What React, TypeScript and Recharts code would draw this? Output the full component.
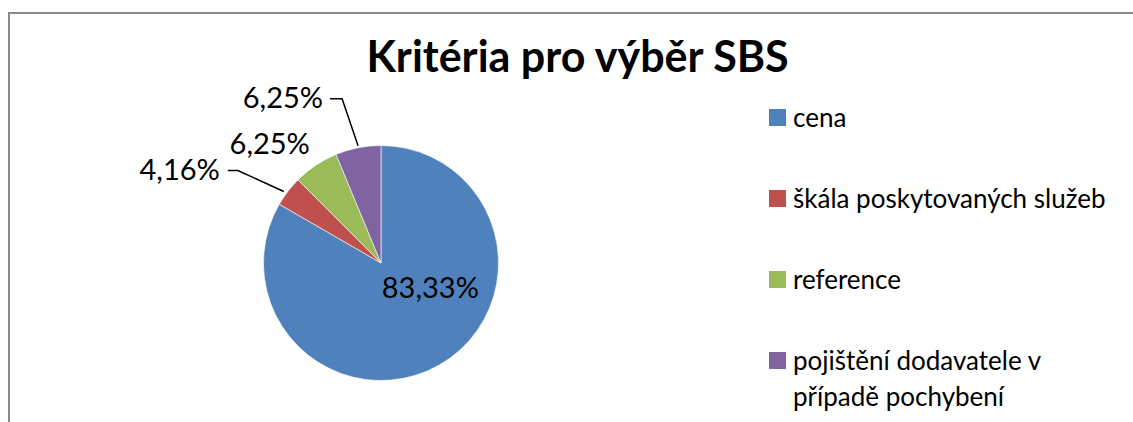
import React from 'react';
import { PieChart, Pie, Cell, Legend } from 'recharts';

const CATEGORIES = ['cena', 'škála poskytovaných služeb', 'reference', 'pojištění dodavatele v případě pochybení'];
const SHARES = [83.33, 4.16, 6.25, 6.25];
const SHARE_LABELS = ['83,33%', '4,16%', '6,25%', '6,25%'];
const COLORS = ['#4F81BD', '#C0504D', '#9BBB59', '#8064A2'];
// legend lines (Excel wrapped the last entry)
const LEGEND_LINES = [['cena'], ['škála poskytovaných služeb'], ['reference'], ['pojištění dodavatele v', 'případě pochybení']];

const data = CATEGORIES.map((name, i) => ({ name, value: SHARES[i], label: SHARE_LABELS[i] }));

const FONT = 'Lato, "Open Sans", sans-serif';
const RAD = Math.PI / 180;

// label placement relative to the slice: inside (blue) or outside with leader line
const renderLabel = (props: any) => {
    const { cx, cy, midAngle, outerRadius, index } = props;
    const cos = Math.cos(-midAngle * RAD);
    const sin = Math.sin(-midAngle * RAD);
    const text = SHARE_LABELS[index];
    const style = { fontFamily: FONT, fontSize: 29, fill: '#000' };

    if (index === 0) {
        return (
            <text x={cx + outerRadius * 0.42} y={cy + 35} textAnchor="middle" style={style}>
                {text}
            </text>
        );
    }
    const ox = cx + outerRadius * cos;
    const oy = cy + outerRadius * sin;
    if (index === 1) {
        const ex = ox - 50;
        const ey = oy - 21;
        return (
            <g>
                <polyline points={`${ox - 4},${oy} ${ex},${ey} ${ex - 10},${ey}`} fill="none" stroke="#000" strokeWidth={1.5} />
                <text x={ex - 18} y={ey + 2} textAnchor="end" dominantBaseline="middle" style={style}>{text}</text>
            </g>
        );
    }
    if (index === 2) {
        return (
            <text x={ox - 46} y={oy - 11} textAnchor="middle" style={style}>{text}</text>
        );
    }
    const ex = ox - 16;
    const ey = oy - 49;
    return (
        <g>
            <polyline points={`${ox},${oy - 2} ${ex},${ey} ${ex - 12},${ey}`} fill="none" stroke="#000" strokeWidth={1.5} />
            <text x={ex - 19} y={ey + 2} textAnchor="end" dominantBaseline="middle" style={style}>{text}</text>
        </g>
    );
};

const renderLegend = () => (
    <div style={{ fontFamily: FONT, fontSize: 26, color: '#000' }}>
        {LEGEND_LINES.map((lines, i) => (
            <div key={i} style={{ display: 'flex', alignItems: 'flex-start', height: 81 }}>
                <div style={{ width: 17, height: 17, background: COLORS[i], marginTop: 9, marginRight: 7, flexShrink: 0 }} />
                <div style={{ lineHeight: '36px', marginTop: -1 }}>
                    {lines.map((l, j) => <div key={j}>{l}</div>)}
                </div>
            </div>
        ))}
    </div>
);

export default function App() {
    return (
        <div style={{ position: 'fixed', inset: 0, overflow: 'hidden', background: '#fff' }}>
            <div style={{
                position: 'absolute', left: 8, top: 12, width: 1200, height: 500,
                border: '2px solid #8a8a8a', boxSizing: 'border-box',
            }} />
            <div style={{
                position: 'absolute', left: 0, top: 30, width: 1155, textAlign: 'center',
                fontFamily: FONT, fontWeight: 700, fontSize: 43, color: '#000',
            }}>
                Kritéria pro výběr SBS
            </div>
            <div style={{ position: 'absolute', left: 0, top: 0 }}>
                <PieChart width={1133} height={422} margin={{ top: 0, right: 0, bottom: 0, left: 0 }}>
                    <Pie
                        data={data}
                        dataKey="value"
                        nameKey="name"
                        cx={381}
                        cy={263}
                        outerRadius={117.5}
                        startAngle={90}
                        endAngle={-270}
                        stroke="#fff"
                        strokeWidth={0.6}
                        label={renderLabel}
                        labelLine={false}
                        isAnimationActive={false}
                    >
                        {data.map((_, i) => (
                            <Cell key={`cell-${i}`} fill={COLORS[i]} />
                        ))}
                    </Pie>
                    <Legend
                        layout="vertical"
                        align="right"
                        verticalAlign="top"
                        content={renderLegend}
                        wrapperStyle={{ left: 769, top: 100, width: 360 }}
                    />
                </PieChart>
            </div>
        </div>
    );
}
